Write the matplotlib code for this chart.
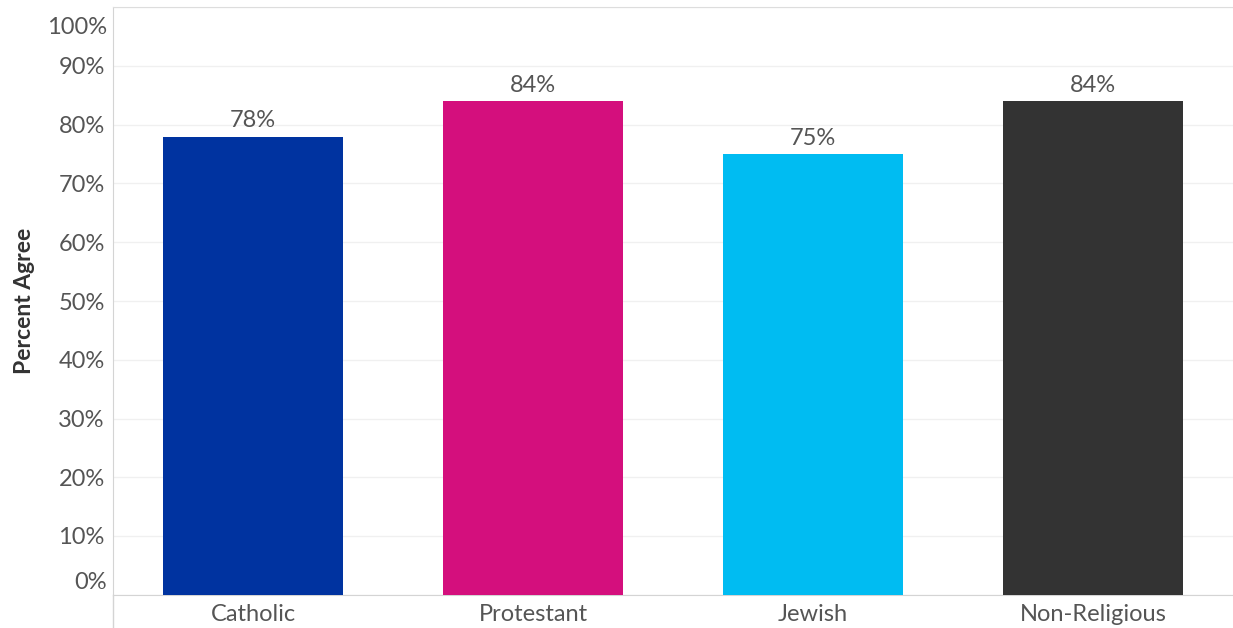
import matplotlib.pyplot as plt
import matplotlib.transforms as mtransforms
import numpy as np

plt.rcParams['font.family'] = ['Lato', 'DejaVu Sans']

categories = ['Catholic', 'Protestant', 'Jewish', 'Non-Religious']
agree = [0.78, 0.84, 0.75, 0.84]
colors = ['#0033A0', '#D40F7D', '#00BCF2', '#333333']
yticks = np.arange(0, 1.01, 0.1)
ytick_labels = ['{:.0f}%'.format(v * 100) for v in yticks]

fig = plt.figure(figsize=(12.33, 6.28), dpi=100)
ax = fig.add_axes([113 / 1233, 33.25 / 628, 1 - 113 / 1233, 587.5 / 628])

x = np.arange(len(categories))
bars = ax.bar(x, agree, width=0.646, color=colors, zorder=3)
for xi, v in zip(x, agree):
    ax.annotate('{:.0f}%'.format(v * 100), (xi, v), xytext=(0, 4),
                textcoords='offset points', ha='center', va='bottom',
                fontsize=17, color='#555555')

ax.set_xlim(-0.5, 3.5)
ax.set_ylim(0, 1)
ax.set_yticks(yticks)
# end labels are pulled inside the axis like the original, so draw them by hand
ax.set_yticklabels([''] + ytick_labels[1:-1] + [''], fontsize=17, color='#555555')
for val, lab, dy in [(yticks[0], ytick_labels[0], 14), (yticks[-1], ytick_labels[-1], -18)]:
    tr = ax.get_yaxis_transform() + mtransforms.ScaledTranslation(
        -6 / 100, dy / 100, fig.dpi_scale_trans)
    ax.text(0, val, lab, transform=tr, ha='right', va='center_baseline',
            fontsize=17, color='#555555')
ax.set_xticks(x)
ax.set_xticklabels(categories, fontsize=17, color='#555555')
ax.tick_params(axis='y', length=0, pad=6)
ax.tick_params(axis='x', length=0, pad=7)

ax.grid(axis='y', color='#f0f0f0', linewidth=1, zorder=0)
ax.spines['right'].set_visible(False)
ax.spines['top'].set_color('#dddddd')
ax.spines['left'].set_color('#d4d4d4')
ax.spines['bottom'].set_color('#d4d4d4')
ax.plot([0, 0], [0, -0.06], transform=ax.transAxes, color='#d4d4d4',
        linewidth=1, clip_on=False)

ax.set_ylabel('Percent Agree', fontsize=16.5, fontweight='bold', color='#333333',
              labelpad=17)

fig.savefig('out.png', dpi=100)
